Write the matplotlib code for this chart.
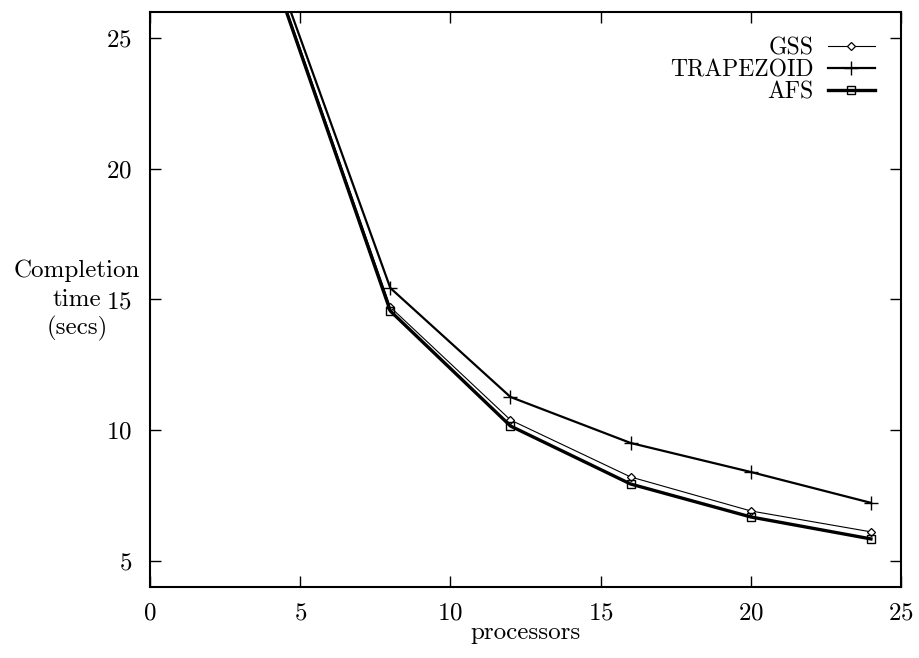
import matplotlib
matplotlib.use('Agg')
import matplotlib.pyplot as plt

# processors vs completion time (secs)
processors = [4, 8, 12, 16, 20, 24]
gss = [27.9, 14.71, 10.39, 8.21, 6.91, 6.11]
trapezoid = [28.2, 15.44, 11.27, 9.51, 8.40, 7.22]
afs = [27.8, 14.56, 10.16, 7.94, 6.68, 5.84]

xticks = [0, 5, 10, 15, 20, 25]
yticks = [5, 10, 15, 20, 25]
ylabel_lines = ['Completion', 'time', '(secs)']

plt.rcParams['font.family'] = ['cmr10', 'DejaVu Serif']
plt.rcParams['axes.formatter.use_mathtext'] = True

fig = plt.figure(figsize=(9.19, 6.58), dpi=100)
ax = fig.add_axes([150/919, 1 - 587/658, 751/919, 575/658])

ax.plot(processors, gss, color='black', lw=0.8, marker='D', ms=4.5,
        mfc='white', mec='black', mew=0.9, label='GSS')
ax.plot(processors, trapezoid, color='black', lw=1.6, marker='+', ms=10,
        mew=1.0, label='TRAPEZOID')
ax.plot(processors, afs, color='black', lw=2.4, marker='s', ms=5.5,
        mfc='none', mec='black', mew=1.0, label='AFS')

ax.set_xlim(0, 25)
ax.set_ylim(4, 26)
ax.set_xticks(xticks)
ax.set_yticks(yticks)
ax.tick_params(direction='in', length=8, width=1.0, top=True, right=True,
               labelsize=18)
ax.tick_params(axis='x', pad=11)
ax.tick_params(axis='y', pad=13)
for s in ax.spines.values():
    s.set_linewidth(1.5)

ax.set_xlabel('processors', fontsize=18, labelpad=-2)

# y label as three stacked lines to the left of the axis
for i, line in enumerate(ylabel_lines):
    fig.text(77/919, 1 - (271 + 28.5*i)/658, line, ha='center',
             va='center', fontsize=18)

ax.legend(loc='upper right', frameon=False, markerfirst=False, fontsize=17,
          handlelength=2.0, handletextpad=0.6, labelspacing=0.0,
          borderaxespad=0.0, bbox_to_anchor=(0.978, 0.973))

fig.savefig('out.png', dpi=100)
